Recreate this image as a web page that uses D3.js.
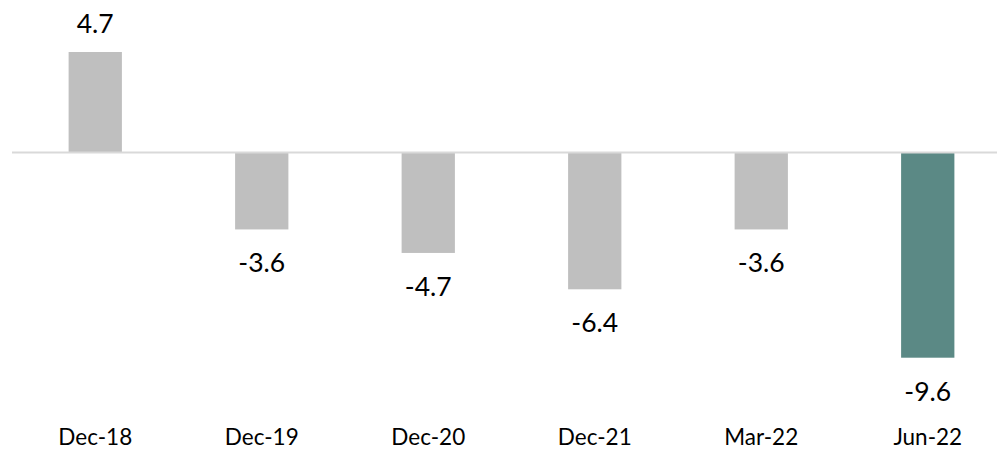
<!DOCTYPE html>
<html>
<head>
  <title>Change by period</title>
  <style>
  html, body { margin:0; padding:0; background:#fff; }
  svg { display:block; }
  text { font-family: Lato, "Open Sans", sans-serif; fill:#000; }
  </style>
  <script src="https://d3js.org/d3.v7.min.js"></script>
</head>
<body>
<svg id="chart"></svg>
<script>
var periods = ["Dec-18", "Dec-19", "Dec-20", "Dec-21", "Mar-22", "Jun-22"];
var values = [4.7, -3.6, -4.7, -6.4, -3.6, -9.6];
var highlight = ["Jun-22"];

var width = 997,
    height = 449;

var svg = d3.select("#chart")
    .attr("width", width)
    .attr("height", height);

var x = d3.scaleBand()
    .domain(periods)
    .range([12, 1011])
    .paddingInner(0.68)
    .paddingOuter(0.34);

var y = d3.scaleLinear()
    .domain([-9.6, 4.7])
    .range([357.7, 52]);

// bars
svg.append("g").selectAll("rect")
  .data(periods)
  .enter().append("rect")
    .attr("x", function(d) { return x(d); })
    .attr("width", x.bandwidth())
    .attr("y", function(d, i) { return Math.min(y(values[i]), y(0)); })
    .attr("height", function(d, i) { return Math.abs(y(values[i]) - y(0)); })
    .attr("fill", function(d) { return highlight.indexOf(d) >= 0 ? "#5b8985" : "#bfbfbf"; });

// zero line
svg.append("line")
    .attr("x1", 12)
    .attr("x2", 1011)
    .attr("y1", y(0))
    .attr("y2", y(0))
    .style("stroke", "#d9d9d9")
    .style("stroke-width", 2);

// value labels
svg.append("g").selectAll("text")
  .data(periods)
  .enter().append("text")
    .attr("x", function(d) { return x(d) + x.bandwidth() / 2; })
    .attr("y", function(d, i) { return values[i] >= 0 ? y(values[i]) - 19 : y(values[i]) + 43; })
    .attr("text-anchor", "middle")
    .style("font-size", "26.5px")
    .text(function(d, i) { return values[i].toFixed(1); });

// category axis
var xAxis = d3.axisBottom(x).tickSize(0).tickPadding(0);
var axisG = svg.append("g")
    .attr("transform", "translate(0,428)")
    .call(xAxis);
axisG.select(".domain").remove();
axisG.selectAll("text")
    .attr("dy", null)
    .attr("y", 17)
    .style("font-family", "Lato, 'Open Sans', sans-serif")
    .style("font-size", "22.5px")
    .style("fill", "#000");
</script>
</body>
</html>
